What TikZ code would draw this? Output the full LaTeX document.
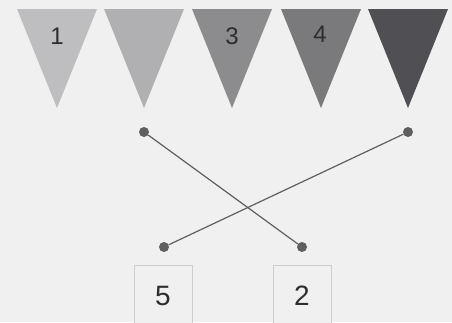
\documentclass[tikz,border=0pt]{standalone}
\usepackage{fontspec}
\setmainfont{Liberation Sans}
\usepackage{tikz}
\usetikzlibrary{positioning}
\definecolor{bg}{RGB}{240,240,240}
\definecolor{flagA}{RGB}{190,190,192}
\definecolor{flagB}{RGB}{176,176,178}
\definecolor{flagC}{RGB}{140,140,142}
\definecolor{flagD}{RGB}{122,122,124}
\definecolor{flagE}{RGB}{80,80,84}
\definecolor{wire}{RGB}{95,95,95}
\definecolor{boxline}{RGB}{205,205,205}
\definecolor{ink}{RGB}{45,45,45}
\begin{document}
\begin{tikzpicture}[
  x=1pt, y=-1pt,
  flaglabel/.style={font=\fontsize{24}{24}\selectfont, text=ink},
  pin/.style={circle, fill=wire, inner sep=0pt, minimum size=10pt},
  cardbox/.style={draw=boxline, line width=1pt, fill=bg, minimum width=58pt,
                  minimum height=80pt, anchor=north},
  cardlabel/.style={font=\fontsize{28}{28}\selectfont, text=ink},
  wireline/.style={wire, line width=1.2pt}
]
  % Background and frame
  \useasboundingbox (0,0) rectangle (452,322);
  \clip (0,0) rectangle (452,322);
  \fill[bg] (0,0) rectangle (452,322);

  % Flags
  \foreach \xl/\c in {17/flagA, 104/flagB, 192/flagC, 281/flagD, 368/flagE}
    \fill[\c] (\xl,9) -- (\xl+80,9) -- (\xl+40,108) -- cycle;

  % Flag numbers
  \node[flaglabel] (n1) at (57,36) {1};
  \node[flaglabel] (n3) at (232,36) {3};
  \node[flaglabel] (n4) at (320,34) {4};

  % Pins
  \node[pin] (pA) at (144,132) {};
  \node[pin] (pB) at (408,132) {};
  \node[pin] (pC) at (164,247) {};
  \node[pin] (pD) at (302,247) {};

  % Crossed wires
  \draw[wireline] (pA) -- (pD);
  \draw[wireline] (pB) -- (pC);

  % Cards
  \node[cardbox] (c5) at (163,265) {};
  \node[cardbox] (c2) at (302,265) {};
  \node[cardlabel] (t5) at (163,296) {5};
  \node[cardlabel] (t2) at (302,296) {2};
\end{tikzpicture}
\end{document}
